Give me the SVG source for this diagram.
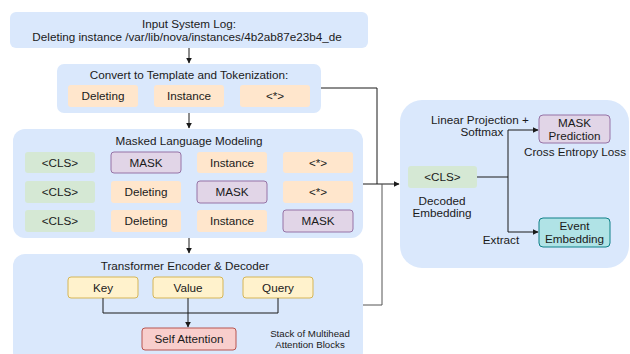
<svg xmlns="http://www.w3.org/2000/svg" width="630" height="354" viewBox="0 0 630 354">
<defs>
<style>
text{font-family:"Liberation Sans",Arial,sans-serif;font-size:11.7px;fill:#1a1a1a;text-anchor:middle}
.sm{font-size:9.7px}
.panel{fill:#dae8fc;stroke:none}
.tok{fill:#ffe6cc;stroke:none}
.cls{fill:#d5e8d4;stroke:none}
.mask{fill:#e1d5e7;stroke:#9673a6;stroke-width:1}
.yel{fill:#fff2cc;stroke:#d6b656;stroke-width:1}
.red{fill:#f8cecc;stroke:#b85450;stroke-width:1}
.teal{fill:#b0e3e6;stroke:#0e8088;stroke-width:1}
.ln{fill:none;stroke:#1a1a1a;stroke-width:1}
.gl{fill:none;stroke:#555;stroke-width:1}
</style>
<marker id="ah" viewBox="0 0 10 10" refX="9" refY="5" markerWidth="6" markerHeight="6" orient="auto" markerUnits="userSpaceOnUse">
<path d="M0,0 L10,5 L0,10 z" fill="#1a1a1a"/>
</marker>
</defs>

<g id="input-log">
<rect class="panel" x="10" y="12" width="358" height="36" rx="6"/>
<text x="189" y="28">Input System Log:</text>
<text x="187" y="41">Deleting instance /var/lib/nova/instances/4b2ab87e23b4_de</text>
</g>

<g id="tokenization">
<rect class="panel" x="57" y="64" width="264" height="49" rx="7"/>
<text x="189" y="79">Convert to Template and Tokenization:</text>
<rect class="tok" x="68" y="85" width="70" height="22" rx="3"/>
<text x="103" y="100">Deleting</text>
<rect class="tok" x="154" y="85" width="70" height="22" rx="3"/>
<text x="189" y="100">Instance</text>
<rect class="tok" x="240" y="85" width="70" height="22" rx="3"/>
<text x="275" y="100">&lt;*&gt;</text>
</g>

<g id="mlm">
<rect class="panel" x="13" y="129" width="350" height="109" rx="12"/>
<text x="189" y="145">Masked Language Modeling</text>
<rect class="cls" x="25" y="152" width="70" height="21" rx="3"/>
<text x="60" y="166.5">&lt;CLS&gt;</text>
<rect class="mask" x="111" y="152" width="70" height="21" rx="3"/>
<text x="146" y="166.5">MASK</text>
<rect class="tok" x="197" y="152" width="70" height="21" rx="3"/>
<text x="232" y="166.5">Instance</text>
<rect class="tok" x="283" y="152" width="70" height="21" rx="3"/>
<text x="318" y="166.5">&lt;*&gt;</text>

<rect class="cls" x="25" y="181" width="70" height="22" rx="3"/>
<text x="60" y="196">&lt;CLS&gt;</text>
<rect class="tok" x="111" y="181" width="70" height="22" rx="3"/>
<text x="146" y="196">Deleting</text>
<rect class="mask" x="197" y="181" width="70" height="22" rx="3"/>
<text x="232" y="196">MASK</text>
<rect class="tok" x="283" y="181" width="70" height="22" rx="3"/>
<text x="318" y="196">&lt;*&gt;</text>

<rect class="cls" x="25" y="210" width="70" height="22" rx="3"/>
<text x="60" y="225">&lt;CLS&gt;</text>
<rect class="tok" x="111" y="210" width="70" height="22" rx="3"/>
<text x="146" y="225">Deleting</text>
<rect class="tok" x="197" y="210" width="70" height="22" rx="3"/>
<text x="232" y="225">Instance</text>
<rect class="mask" x="283" y="210" width="70" height="22" rx="3"/>
<text x="318" y="225">MASK</text>
</g>

<g id="transformer">
<rect class="panel" x="13" y="254" width="350" height="110" rx="12"/>
<text x="185" y="270">Transformer Encoder &amp; Decoder</text>
<rect class="yel" x="68" y="277" width="70" height="21" rx="3"/>
<text x="103" y="291.5">Key</text>
<rect class="yel" x="153" y="277" width="70" height="21" rx="3"/>
<text x="188" y="291.5">Value</text>
<rect class="yel" x="243" y="277" width="70" height="21" rx="3"/>
<text x="278" y="291.5">Query</text>
<rect class="red" x="142" y="328" width="94" height="22" rx="3"/>
<text x="189" y="343">Self Attention</text>
<text class="sm" x="310" y="337">Stack of Multihead</text>
<text class="sm" x="310" y="348">Attention Blocks</text>
</g>

<g id="output">
<rect class="panel" x="400" y="100" width="229" height="168" rx="22"/>
<rect class="cls" x="408" y="166" width="69" height="22" rx="3"/>
<text x="442.5" y="181">&lt;CLS&gt;</text>
<text x="442" y="205">Decoded</text>
<text x="442" y="217">Embedding</text>
<rect class="mask" x="539" y="115" width="71" height="28" rx="4"/>
<text x="574.5" y="127">MASK</text>
<text x="574.5" y="140">Prediction</text>
<text x="575" y="156">Cross Entropy Loss</text>
<text x="480" y="124">Linear Projection +</text>
<text x="482" y="136">Softmax</text>
<rect class="teal" x="539" y="218" width="71" height="29" rx="4"/>
<text x="574.5" y="230">Event</text>
<text x="574.5" y="243">Embedding</text>
<text x="501" y="244">Extract</text>
</g>

<g id="connectors">
<line class="ln" x1="189" y1="48" x2="189" y2="63" marker-end="url(#ah)"/>
<line class="ln" x1="189" y1="113" x2="189" y2="128" marker-end="url(#ah)"/>
<line class="ln" x1="189" y1="238" x2="189" y2="253" marker-end="url(#ah)"/>
<polyline class="ln" points="321,88 377,88 377,184"/>
<line class="ln" x1="363" y1="184" x2="399" y2="184" marker-end="url(#ah)"/>
<polyline class="gl" points="363,305 382,305 382,184"/>
<polyline class="ln" points="103,298 103,313 278,313 278,298"/>
<line class="ln" x1="188" y1="298" x2="188" y2="327" marker-end="url(#ah)"/>
<polyline class="ln" points="477,177 508,177"/>
<polyline class="ln" points="508,232 508,130"/>
<line class="ln" x1="508" y1="130" x2="538" y2="130" marker-end="url(#ah)"/>
<line class="ln" x1="508" y1="232" x2="538" y2="232" marker-end="url(#ah)"/>
</g>
</svg>
